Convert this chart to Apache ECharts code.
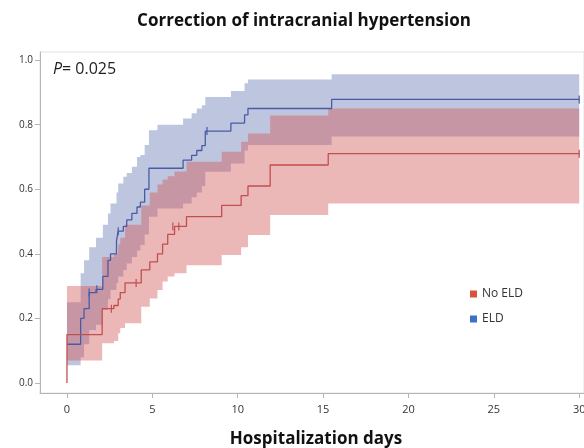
<!DOCTYPE html>
<html>
<head>
<meta charset="utf-8">
<script src="https://cdn.jsdelivr.net/npm/echarts@6/dist/echarts.min.js"></script>
<style>html,body{margin:0;padding:0;background:#fff;}#c{width:584px;height:448px;}</style>
</head>
<body>
<div id="c"></div>
<script>
// ---- data ----
const xTicks = [0, 5, 10, 15, 20, 25, 30];
const yTicks = [0, 0.2, 0.4, 0.6, 0.8, 1.0];

const noEldDays  = [0, 2.06, 2.75, 3.0, 3.12, 3.4, 4.35, 4.85, 5.3, 5.6, 5.9, 6.3, 7.0, 9.06, 10.2, 10.6, 11.9, 15.3, 30];
const noEldSurv  = [0.15, 0.23, 0.24, 0.26, 0.28, 0.31, 0.35, 0.375, 0.40, 0.43, 0.46, 0.485, 0.515, 0.55, 0.58, 0.61, 0.675, 0.71, 0.71];
const noEldLower = [0.07, 0.123, 0.13, 0.154, 0.17, 0.185, 0.236, 0.262, 0.288, 0.314, 0.33, 0.34, 0.365, 0.396, 0.42, 0.458, 0.52, 0.556, 0.556];
const noEldUpper = [0.30, 0.39, 0.40, 0.43, 0.45, 0.49, 0.55, 0.59, 0.615, 0.63, 0.64, 0.655, 0.685, 0.716, 0.747, 0.773, 0.828, 0.85, 0.85];

const eldDays  = [0, 0.8, 1.0, 1.3, 1.7, 2.1, 2.4, 2.55, 2.9, 3.0, 3.3, 3.5, 3.8, 4.1, 4.3, 4.55, 4.8, 5.3, 6.8, 7.3, 7.6, 7.9, 8.1, 9.6, 10.4, 10.6, 15.5, 30];
const eldSurv  = [0.12, 0.20, 0.23, 0.28, 0.29, 0.33, 0.38, 0.40, 0.44, 0.47, 0.485, 0.505, 0.525, 0.545, 0.56, 0.60, 0.665, 0.665, 0.69, 0.705, 0.72, 0.735, 0.78, 0.805, 0.83, 0.85, 0.878, 0.878];
const eldUpper = [0.25, 0.34, 0.38, 0.42, 0.45, 0.49, 0.525, 0.556, 0.59, 0.618, 0.639, 0.65, 0.67, 0.70, 0.706, 0.737, 0.783, 0.80, 0.819, 0.835, 0.85, 0.86, 0.886, 0.904, 0.928, 0.94, 0.956, 0.956];
const eldLower = [0.055, 0.08, 0.12, 0.164, 0.18, 0.226, 0.26, 0.288, 0.31, 0.33, 0.35, 0.37, 0.39, 0.41, 0.427, 0.46, 0.515, 0.54, 0.556, 0.575, 0.59, 0.61, 0.654, 0.68, 0.72, 0.737, 0.763, 0.763];

const noEldCensorDays = [2.6, 4.05, 6.2, 6.55, 30];
const noEldCensorVals = [0.23, 0.31, 0.485, 0.485, 0.71];
const eldCensorDays = [1.3, 1.75, 3.0, 8.2, 30];
const eldCensorVals = [0.28, 0.29, 0.47, 0.78, 0.878];

// ---- helpers ----
const zip = (a, b) => a.map((v, i) => [v, b[i]]);
function bandPoints(t, up, lo) {
  const top = [], bot = [];
  for (let i = 0; i < t.length; i++) {
    top.push([t[i], up[i]]);
    if (i < t.length - 1) top.push([t[i + 1], up[i]]);
    bot.push([t[i], lo[i]]);
    if (i < t.length - 1) bot.push([t[i + 1], lo[i]]);
  }
  return top.concat(bot.reverse());
}
function bandSeries(name, t, up, lo, fill, z) {
  const pts = bandPoints(t, up, lo);
  return {
    type: 'custom', name: name + ' band', z: z, silent: true,
    coordinateSystem: 'cartesian2d',
    data: [[0, 0]],
    renderItem: function (params, api) {
      return { type: 'polygon', shape: { points: pts.map(p => api.coord(p)) }, style: { fill: fill } };
    }
  };
}

const FONT = "'Open Sans', 'Noto Sans', sans-serif";
const RED_LINE = '#c24f4f', BLUE_LINE = '#4a5ba5';

const chart = echarts.init(document.getElementById('c'), null, { renderer: 'canvas' });
chart.setOption({
  animation: false,
  backgroundColor: '#fff',
  textStyle: { fontFamily: FONT },
  title: {
    text: 'Correction of intracranial hypertension',
    left: 299, top: 8, textAlign: 'center',
    textStyle: { fontFamily: FONT, fontSize: 17, fontWeight: 'bold', color: '#111' }
  },
  grid: { left: 40, right: 0, top: 52, bottom: 55, show: true, borderColor: '#e2e2e2', borderWidth: 1,
    containLabel: false, outerBoundsMode: 'none' },
  legend: {
    orient: 'vertical', left: 465, top: 283, itemWidth: 7, itemHeight: 7, itemGap: 13, icon: 'rect',
    textStyle: { fontFamily: FONT, fontSize: 12, color: '#333' },
    data: [
      { name: 'No ELD', itemStyle: { color: '#d9533c' } },
      { name: 'ELD', itemStyle: { color: '#3f6fc6' } }
    ]
  },
  xAxis: {
    type: 'value', min: -1.58, max: 30.28,
    name: 'Hospitalization days', nameLocation: 'middle', nameGap: 38,
    nameTextStyle: { fontFamily: FONT, fontSize: 17, fontWeight: 'bold', color: '#111', padding: [0, 0, 0, 8] },
    splitLine: { show: false },
    axisLine: { show: true, onZero: false, lineStyle: { color: '#b5b5b5' } },
    axisTick: { show: true, length: 5, lineStyle: { color: '#b5b5b5' }, customValues: xTicks },
    axisLabel: { customValues: xTicks, margin: 11, fontSize: 11, color: '#333', fontFamily: FONT }
  },
  yAxis: {
    type: 'value', min: -0.031, max: 1.025,
    splitLine: { show: false },
    axisLine: { show: true, onZero: false, lineStyle: { color: '#b5b5b5' } },
    axisTick: { show: true, length: 5, lineStyle: { color: '#b5b5b5' }, customValues: yTicks },
    axisLabel: { customValues: yTicks, margin: 7, fontSize: 10, color: '#333', fontFamily: FONT,
      formatter: v => v.toFixed(1) }
  },
  graphic: [{
    type: 'text', left: 53, top: 61, z: 100,
    style: {
      text: '{i|P}= 0.025',
      rich: { i: { fontStyle: 'italic', fontSize: 16, fontFamily: FONT, fill: '#222' } },
      fontSize: 16, fontFamily: FONT, fill: '#222'
    }
  }],
  series: [
    bandSeries('ELD', eldDays, eldUpper, eldLower, 'rgb(190,198,223)', 1),
    bandSeries('No ELD', noEldDays, noEldUpper, noEldLower, 'rgba(210,88,88,0.43)', 2),
    {
      name: 'ELD', type: 'line', step: 'end', z: 5, showSymbol: false, silent: true,
      data: zip(eldDays, eldSurv),
      lineStyle: { color: BLUE_LINE, width: 1.3 }, itemStyle: { color: BLUE_LINE }
    },
    {
      name: 'No ELD', type: 'line', step: 'end', z: 6, showSymbol: false, silent: true,
      data: [[0, 0]].concat(zip(noEldDays, noEldSurv)),
      lineStyle: { color: RED_LINE, width: 1.3 }, itemStyle: { color: RED_LINE }
    },
    {
      type: 'scatter', z: 7, silent: true, symbol: 'rect', symbolSize: [1.2, 8],
      data: zip(eldCensorDays, eldCensorVals), itemStyle: { color: BLUE_LINE, opacity: 1 }
    },
    {
      type: 'scatter', z: 8, silent: true, symbol: 'rect', symbolSize: [1.2, 8],
      data: zip(noEldCensorDays, noEldCensorVals), itemStyle: { color: RED_LINE, opacity: 1 }
    }
  ]
});
</script>
</body>
</html>
